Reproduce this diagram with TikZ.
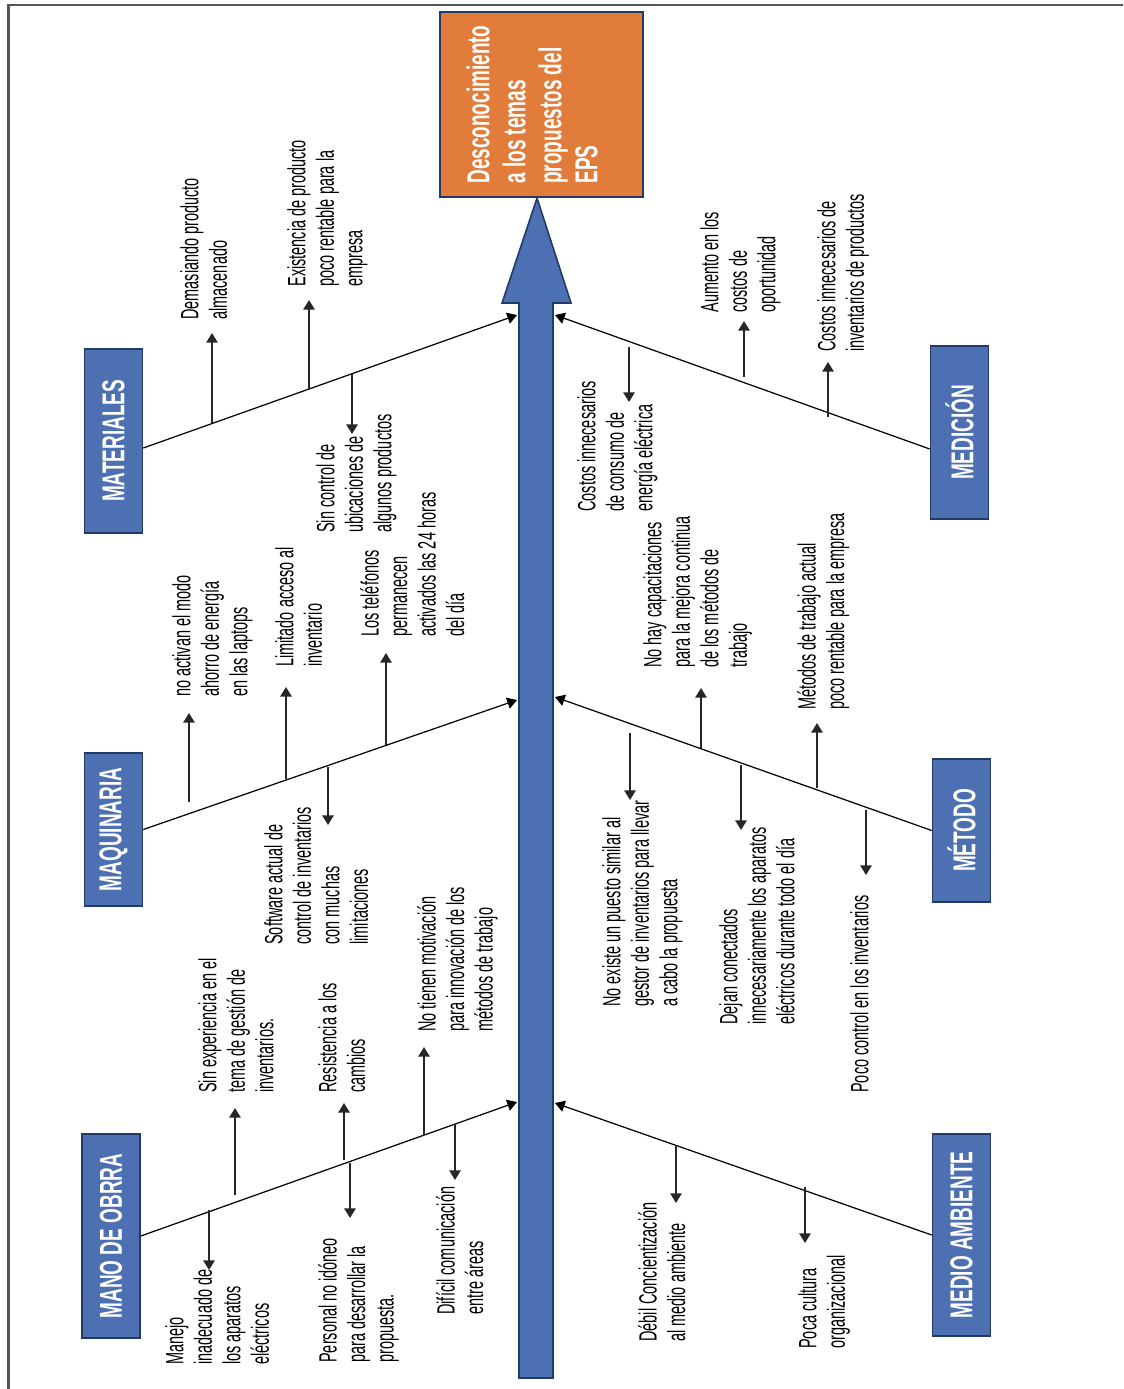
\documentclass[tikz,border=0pt]{standalone}
\usepackage{fontspec}
\setmainfont{Liberation Sans}
\newfontfamily\narrowfont[FakeStretch=0.58]{Liberation Sans}
\newfontfamily\headfont[FakeStretch=0.6]{Liberation Sans}
\usetikzlibrary{arrows.meta}
\definecolor{fishblue}{RGB}{76,112,178}
\definecolor{fishline}{RGB}{34,58,102}
\definecolor{effectorange}{RGB}{226,124,58}
\definecolor{framegray}{RGB}{85,85,85}
\tikzset{
  catbox/.style={rotate=90,draw=fishline,line width=.9pt,fill=fishblue,text=white,
    font=\headfont\bfseries\fontsize{18}{20}\selectfont,minimum height=1.16cm,inner sep=0pt},
  branch/.style={-{Triangle[width=6.5pt,length=5.5pt]},line width=.7pt},
  cause/.style={-{Triangle[width=6.5pt,length=5.5pt]},line width=.9pt,black!85},
  note/.style={rotate=90,anchor=north west,align=left,inner sep=0pt,
    font=\narrowfont\fontsize{14.2}{16.2}\selectfont},
  headnote/.style={note,text=white,font=\headfont\bfseries\fontsize{18}{20.5}\selectfont},
}
\begin{document}
\begin{tikzpicture}[x=0.02cm,y=-0.02cm]
  \useasboundingbox (0,0) rectangle (1123,1389);
  \draw[framegray,line width=1.4pt] (1123,5) -- (8.7,5) -- (8.7,1389);
  % spine and effect
  \draw[fishline,line width=.9pt,fill=fishblue] (519,1378) -- (519,303) -- (502,303) -- (537,198)
    -- (571,303) -- (553,303) -- (553,1378) -- cycle;
  \node[draw=fishline,fill=effectorange,line width=.7pt,minimum width=4.06cm,minimum height=3.7cm] (eff) at (541.5,104.5) {};
  \node[headnote] (efftext) at (466,184) {Desconocimiento\\a los temas\\propuestos del\\EPS};
  % categories
  \node[catbox,minimum width=3.68cm] (mat) at (113.5,441) {MATERIALES};
  \node[catbox,minimum width=3.06cm] (maq) at (113.5,829.5) {MAQUINARIA};
  \node[catbox,minimum width=4.08cm] (mano) at (111,1236) {MANO DE OBRRA};
  \node[catbox,minimum width=3.46cm] (med) at (959.5,432.5) {MEDICIÓN};
  \node[catbox,minimum width=2.86cm] (met) at (961.5,830.5) {MÉTODO};
  \node[catbox,minimum width=4.04cm] (amb) at (961.5,1235) {MEDIO AMBIENTE};
  \coordinate (matend) at (517,315); \coordinate (maqend) at (517,700); \coordinate (manoend) at (517,1102);
  \coordinate (medend) at (555,315); \coordinate (metend) at (555,697); \coordinate (ambend) at (555,1103);
  \draw[branch] ([yshift=-.14cm]mat.south) -- (matend);
  \draw[branch] (maq.south) -- (maqend);
  \draw[branch] (mano.south) -- (manoend);
  \draw[branch] ([yshift=-.33cm]med.north) -- (medend);
  \draw[branch] (met.north) -- (metend);
  \draw[branch] (amb.north) -- (ambend);
  % materiales
  \coordinate (m1a) at (212,423); \coordinate (m1b) at (212,333);
  \draw[cause] (m1a) -- (m1b);
  \node[note] (m1) at (180,320) {Demasiando producto\\almacenado};
  \coordinate (m2a) at (309,389); \coordinate (m2b) at (309,300);
  \draw[cause] (m2a) -- (m2b);
  \node[note] (m2) at (287,287) {Existencia de producto\\poco rentable para la\\empresa};
  \coordinate (m3a) at (352,374); \coordinate (m3b) at (352,434);
  \draw[cause] (m3a) -- (m3b);
  \node[note] (m3) at (316,533) {Sin control de\\ubicaciones de\\algunos productos};
  % maquinaria
  \coordinate (q1a) at (189,802); \coordinate (q1b) at (189,713);
  \draw[cause] (q1a) -- (q1b);
  \node[note] (q1) at (172,697) {no activan el modo\\ahorro de energía\\en las laptops};
  \coordinate (q2a) at (286,779); \coordinate (q2b) at (286,687);
  \draw[cause] (q2a) -- (q2b);
  \node[note] (q2) at (275,667) {Limitado acceso al\\inventario};
  \coordinate (q3a) at (386,745); \coordinate (q3b) at (386,653);
  \draw[cause] (q3a) -- (q3b);
  \node[note] (q3) at (360,637) {Los teléfonos\\permanecen\\activados las 24 horas\\del día};
  \coordinate (q4a) at (328,767); \coordinate (q4b) at (328,825);
  \draw[cause] (q4a) -- (q4b);
  \node[note] (q4) at (264,945) {Software actual de\\control de inventarios\\con muchas\\limitaciones};
  % mano de obra
  \coordinate (o1a) at (235,1195); \coordinate (o1b) at (235,1108);
  \draw[cause] (o1a) -- (o1b);
  \node[note] (o1) at (198,1093) {Sin experiencia en el\\tema de gestión de\\inventarios.};
  \coordinate (o2a) at (344,1160); \coordinate (o2b) at (344,1103);
  \draw[cause] (o2a) -- (o2b);
  \node[note] (o2) at (318,1093) {Resistencia a los\\cambios};
  \coordinate (o3a) at (424,1135); \coordinate (o3b) at (424,1047);
  \draw[cause] (o3a) -- (o3b);
  \node[note] (o3) at (417,1032) {No tienen motivación\\para innovación de los\\métodos de trabajo};
  \coordinate (o4a) at (209,1210); \coordinate (o4b) at (209,1270);
  \draw[cause] (o4a) -- (o4b);
  \node[note] (o4) at (165,1365) {Manejo\\inadecuado de\\los aparatos\\eléctricos};
  \coordinate (o5a) at (350,1163); \coordinate (o5b) at (350,1218);
  \draw[cause] (o5a) -- (o5b);
  \node[note] (o5) at (318,1363) {Personal no idóneo\\para desarrollar la\\propuesta.};
  \coordinate (o6a) at (455,1124); \coordinate (o6b) at (455,1180);
  \draw[cause] (o6a) -- (o6b);
  \node[note] (o6) at (436,1315) {Difícil comunicación\\entre áreas};
  % medicion
  \coordinate (d1a) at (629,347); \coordinate (d1b) at (629,402);
  \draw[cause] (d1a) -- (d1b);
  \node[note] (d1) at (577,512) {Costos innecesarios\\de consumo de\\energía eléctrica};
  \coordinate (d2a) at (744,377); \coordinate (d2b) at (744,321);
  \draw[cause] (d2a) -- (d2b);
  \node[note] (d2) at (700,313) {Aumento en los\\costos de\\oportunidad};
  \coordinate (d3a) at (828,417); \coordinate (d3b) at (828,362);
  \draw[cause] (d3a) -- (d3b);
  \node[note] (d3) at (817,352) {Costos innecesarios de\\inventarios de productos};
  % metodo
  \coordinate (t1a) at (701,748); \coordinate (t1b) at (701,688);
  \draw[cause] (t1a) -- (t1b);
  \node[note] (t1) at (643,668) {No hay capacitaciones\\para la mejora continua\\de los métodos de\\trabajo};
  \coordinate (t2a) at (817,788); \coordinate (t2b) at (817,723);
  \draw[cause] (t2a) -- (t2b);
  \node[note] (t2) at (797,710) {Métodos de trabajo actual\\poco rentable para la empresa};
  \coordinate (t3a) at (630,733); \coordinate (t3b) at (630,800);
  \draw[cause] (t3a) -- (t3b);
  \node[note] (t3) at (602,1007) {No existe un puesto similar al\\gestor de inventarios para llevar\\a cabo la propuesta};
  \coordinate (t4a) at (741,765); \coordinate (t4b) at (741,830);
  \draw[cause] (t4a) -- (t4b);
  \node[note] (t4) at (719,1025) {Dejan conectados\\innecesariamente los aparatos\\eléctricos durante todo el día};
  \coordinate (t5a) at (866,810); \coordinate (t5b) at (866,875);
  \draw[cause] (t5a) -- (t5b);
  \node[note] (t5) at (850,1093) {Poco control en los inventarios};
  % medio ambiente
  \coordinate (a1a) at (676,1146); \coordinate (a1b) at (676,1203);
  \draw[cause] (a1a) -- (a1b);
  \node[note] (a1) at (638,1342) {Débil Concientización\\al medio ambiente};
  \coordinate (a2a) at (805,1187); \coordinate (a2b) at (805,1243);
  \draw[cause] (a2a) -- (a2b);
  \node[note] (a2) at (798,1349) {Poca cultura\\organizacional};
\end{tikzpicture}
\end{document}
